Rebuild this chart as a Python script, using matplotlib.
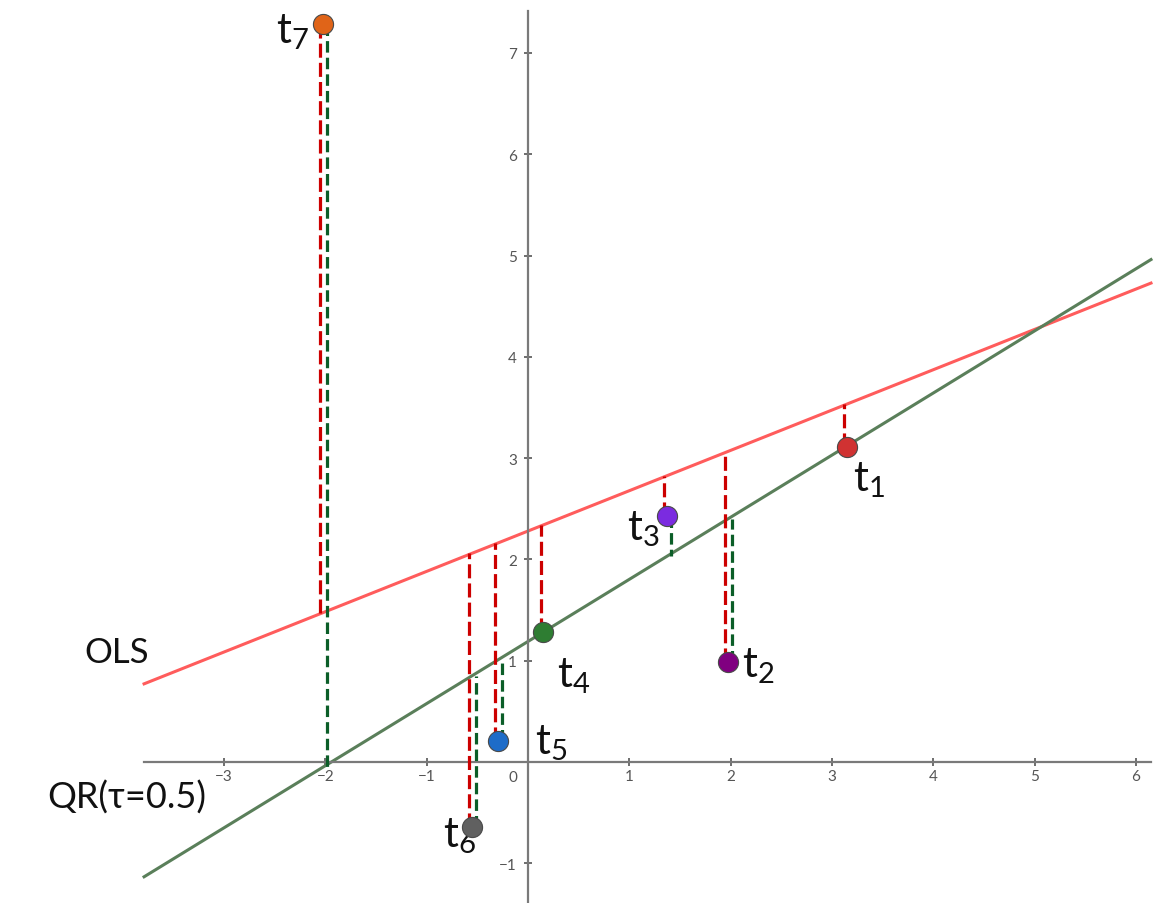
import numpy as np
import matplotlib.pyplot as plt

plt.rcParams['font.family'] = ['Lato', 'DejaVu Sans']
plt.rcParams['mathtext.fontset'] = 'custom'
plt.rcParams['mathtext.rm'] = 'Lato'
plt.rcParams['mathtext.default'] = 'regular'

# points
names = ['1', '2', '3', '4', '5', '6', '7']
xs = [3.146, 1.971, 1.369, 0.151, -0.299, -0.556, -2.027]
ys = [3.113, 0.99, 2.425, 1.286, 0.21, -0.645, 7.285]
cols = ['#d03232', '#800080', '#7b2be0', '#2e7d32', '#1e6cc8', '#606060', '#e06418']
has_green = [False, True, True, False, True, True, True]

# fitted lines (slope, intercept)
ols = (0.398, 2.28)
qr = (0.613, 1.19)

xticks = [-3, -2, -1, 1, 2, 3, 4, 5, 6]
yticks = [-1, 1, 2, 3, 4, 5, 6, 7]

# label offsets in pixels (dx, dy), baseline anchored
lab_off = [(6, -44), (14, -15), (-40, -23), (14, -55), (37, -13), (-29, -19), (-47, -18)]

fig = plt.figure(figsize=(11.72, 9.04), dpi=100)
ax = fig.add_axes([0, 0, 1, 1])
unit = 101.3
ax.set_xlim(-528 / unit, (1172 - 528) / unit)
ax.set_ylim((763 - 904) / unit, 763 / unit)

x0, x1 = -3.79, 6.15
for s in ['top', 'right']:
    ax.spines[s].set_visible(False)
ax.spines['left'].set_position(('data', 0))
ax.spines['bottom'].set_position(('data', 0))
ax.spines['bottom'].set_bounds(x0, x1)
ax.spines['left'].set_bounds((763 - 904) / unit, 7.41)
for s in ['left', 'bottom']:
    ax.spines[s].set_color('#7a7a7a')
    ax.spines[s].set_linewidth(1.6)
ax.set_xticks(xticks)
ax.set_yticks(yticks)
ax.tick_params(direction='inout', length=6, width=1.2, color='#555555',
               labelsize=11, labelcolor='#555555')
ax.tick_params(axis='x', pad=2)
ax.tick_params(axis='y', pad=5)
ax.text(-0.15, -0.08, '0', fontsize=11, color='#555555', ha='center', va='top')

xl = np.array([x0, x1])
ax.plot(xl, ols[0] * xl + ols[1], color='#ff5c5c', lw=2.2, zorder=2)
ax.plot(xl, qr[0] * xl + qr[1], color='#5a7f5a', lw=2.2, zorder=2)

for i in range(len(xs)):
    x, y = xs[i], ys[i]
    yo = ols[0] * x + ols[1]
    ax.plot([x - 0.025, x - 0.025], [y, yo], color='#cc0000', lw=2.3,
            dashes=(4.4, 1.6), zorder=3)
    if has_green[i]:
        yq = qr[0] * x + qr[1]
        ax.plot([x + 0.04, x + 0.04], [y, yq], color='#0b5e28', lw=2.3,
                dashes=(3.6, 1.6), zorder=3)

for i in range(len(xs)):
    ax.plot(xs[i], ys[i], 'o', ms=14.5, color=cols[i], mec='#4a4a4a', mew=0.8, zorder=5)
    ax.annotate('t$_{%s}$' % names[i], (xs[i], ys[i]), xytext=lab_off[i],
                textcoords='offset pixels', ha='left', va='baseline',
                fontsize=30, color='#111111')

ax.text(-4.38, 0.99, 'OLS', fontsize=25, color='#111111', ha='left', va='baseline')
ax.text(-4.75, -0.45, 'QR(τ=0.5)', fontsize=26, color='#111111', ha='left', va='baseline')

fig.savefig('out.png', dpi=100)
